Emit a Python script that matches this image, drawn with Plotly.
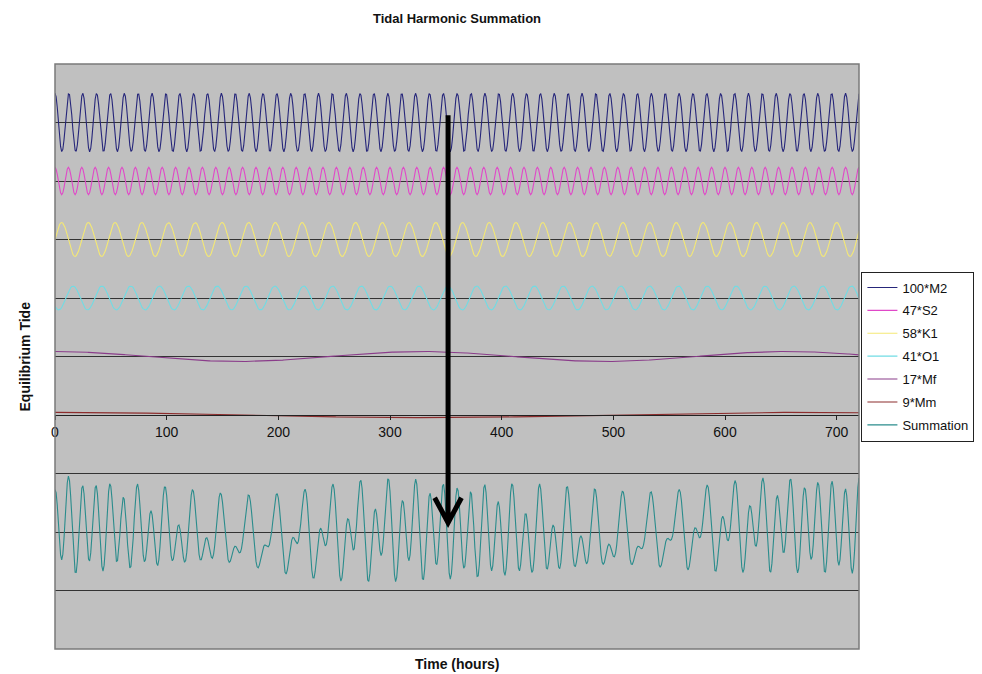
import numpy as np
import plotly.graph_objects as go

# ---- data: harmonic constants ----
constituents = ["M2", "S2", "K1", "O1", "Mf", "Mm"]
legend_labels = ["100*M2", "47*S2", "58*K1", "41*O1", "17*Mf", "9*Mm"]
amplitudes = [100, 47, 58, 41, 17, 9]
speeds_deg_per_hr = [28.9841, 30.0, 15.0411, 13.9430, 1.0980, 0.5444]
phases_deg = [0, 0, 90, 226, 0, 0]
display_offsets = [1000, 800, 600, 400, 200, 0]
summation_label = "Summation"
summation_offset = -400
hours = np.arange(0, 721)  # hourly samples, 0..720 h

x_ticks = [0, 100, 200, 300, 400, 500, 600, 700]
y_range = [-800, 1200]
grid_step = 200

# arrow annotation (time, top value, tip value)
arrow_time = 352
arrow_top = 1025
arrow_tip = -368
arrow_arm_dx = 12
arrow_arm_dy = 85

colors = ["#26267a", "#e048c8", "#f4e874", "#70dce4", "#8a3c8a", "#8c2c2c"]
sum_color = "#2a8c8c"

fig = go.Figure()
total = np.zeros(len(hours))
for name, lab, a, s, p, off, c in zip(constituents, legend_labels, amplitudes,
                                      speeds_deg_per_hr, phases_deg,
                                      display_offsets, colors):
    comp = a * np.cos(np.radians(s * hours - p))
    total += comp
    fig.add_trace(go.Scatter(x=hours, y=comp + off, mode="lines", name=lab,
                             legendgroup=name,
                             line=dict(color=c, width=1.1)))
fig.add_trace(go.Scatter(x=hours, y=total + summation_offset, mode="lines",
                         name=summation_label, legendgroup="sum",
                         line=dict(color=sum_color, width=1.1)))

font = "Arial, Liberation Sans, sans-serif"
zero_pos = (0 - y_range[0]) / (y_range[1] - y_range[0])

fig.update_layout(
    width=982, height=674, autosize=False,
    margin=dict(l=55, r=123, t=64, b=25, autoexpand=False),
    paper_bgcolor="white", plot_bgcolor="#c0c0c0",
    font=dict(family=font, size=13, color="#111"),
    title=dict(text="<b>Tidal Harmonic Summation</b>", x=0.5, xref="paper",
               xanchor="center", y=1 - 18 / 674, yref="container",
               yanchor="middle", font=dict(size=13, family=font, color="#111")),
    showlegend=True,
    legend=dict(x=1.003, xanchor="left", y=0.5, yanchor="middle",
                bgcolor="white", bordercolor="#222", borderwidth=1,
                font=dict(size=13, family=font, color="#111"),
                tracegroupgap=3, traceorder="grouped", itemwidth=30),
    xaxis=dict(range=[0, 720], tickvals=x_ticks, showgrid=False,
               zeroline=False, anchor="free", position=zero_pos,
               showline=True, linecolor="#222", linewidth=1,
               ticks="outside", ticklen=4, tickcolor="#222",
               tickfont=dict(size=14, family=font, color="#111")),
    yaxis=dict(range=y_range, dtick=grid_step, tick0=0, showgrid=True,
               gridcolor="#333333", gridwidth=1.3, zeroline=False,
               showticklabels=False, ticks=""),
)

fig.add_shape(type="rect", xref="x domain", yref="y domain", x0=0, x1=1,
              y0=0, y1=1, line=dict(color="#7a7a7a", width=1.5), layer="above")

arrow_path = (f"M {arrow_time},{arrow_top} L {arrow_time},{arrow_tip} "
              f"M {arrow_time - arrow_arm_dx},{arrow_tip + arrow_arm_dy} "
              f"L {arrow_time},{arrow_tip} "
              f"L {arrow_time + arrow_arm_dx},{arrow_tip + arrow_arm_dy}")
fig.add_shape(type="path", xref="x", yref="y", path=arrow_path,
              line=dict(color="black", width=5), layer="above")

fig.add_annotation(text="<b>Time (hours)</b>", xref="paper", yref="paper",
                   x=0.5, y=0, yanchor="top", yshift=-5, showarrow=False,
                   font=dict(size=14, family=font, color="#111"))
fig.add_annotation(text="<b>Equilibrium Tide</b>", xref="paper", yref="paper",
                   x=0, y=0.5, xanchor="center", yanchor="middle",
                   xshift=-31, textangle=-90, showarrow=False,
                   font=dict(size=14, family=font, color="#111"))

fig.write_html("out.html")
